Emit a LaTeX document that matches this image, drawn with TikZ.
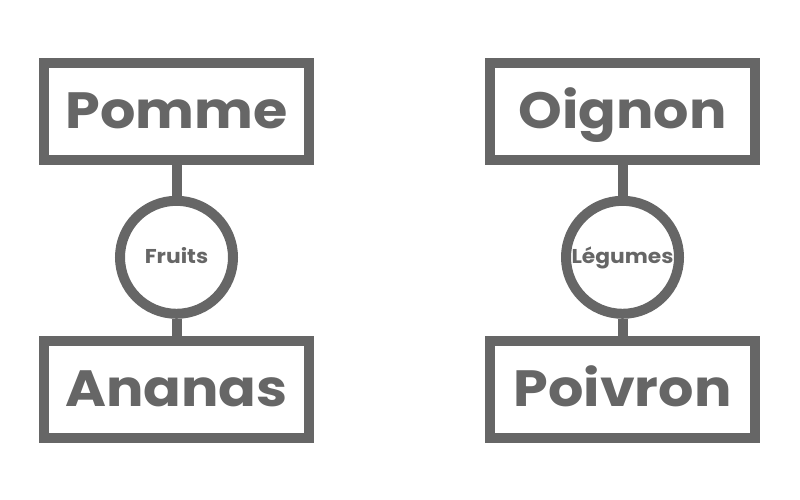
\documentclass[tikz,border=0pt]{standalone}
\usepackage{fontspec}
\setmainfont{Poppins}[FakeStretch=1.09]
\usetikzlibrary{positioning}
\definecolor{grisfonce}{HTML}{666666}

\begin{document}
\begin{tikzpicture}[x=1pt,y=1pt,
    boite/.style={draw=grisfonce,line width=10pt,minimum width=265pt,minimum height=97pt,inner sep=0pt,
      text height=35pt,text depth=0pt,text=grisfonce,font=\fontsize{51}{51}\selectfont\bfseries},
    rond/.style={draw=grisfonce,line width=10pt,circle,minimum size=113pt,inner sep=0pt,
      text height=14pt,text depth=1pt,text=grisfonce,font=\fontsize{20}{20}\selectfont\bfseries},
    lien/.style={draw=grisfonce,line width=10pt}]
  \useasboundingbox (0,0) rectangle (800,500);
  % fruits
  \node[boite] (pomme) at (176.5,388.5) {Pomme};
  \node[rond] (fruits) at (176.5,242.7) {Fruits};
  \node[boite] (ananas) at (176.5,110.5) {Ananas};
  % legumes
  \node[boite] (oignon) at (622.5,388.5) {Oignon};
  \node[rond] (legumes) at (622.5,242.7) {Légumes};
  \node[boite] (poivron) at (622.5,110.5) {Poivron};
  \draw[lien] (pomme) -- (fruits);
  \draw[lien] (fruits) -- (ananas);
  \draw[lien] (oignon) -- (legumes);
  \draw[lien] (legumes) -- (poivron);
\end{tikzpicture}
\end{document}
